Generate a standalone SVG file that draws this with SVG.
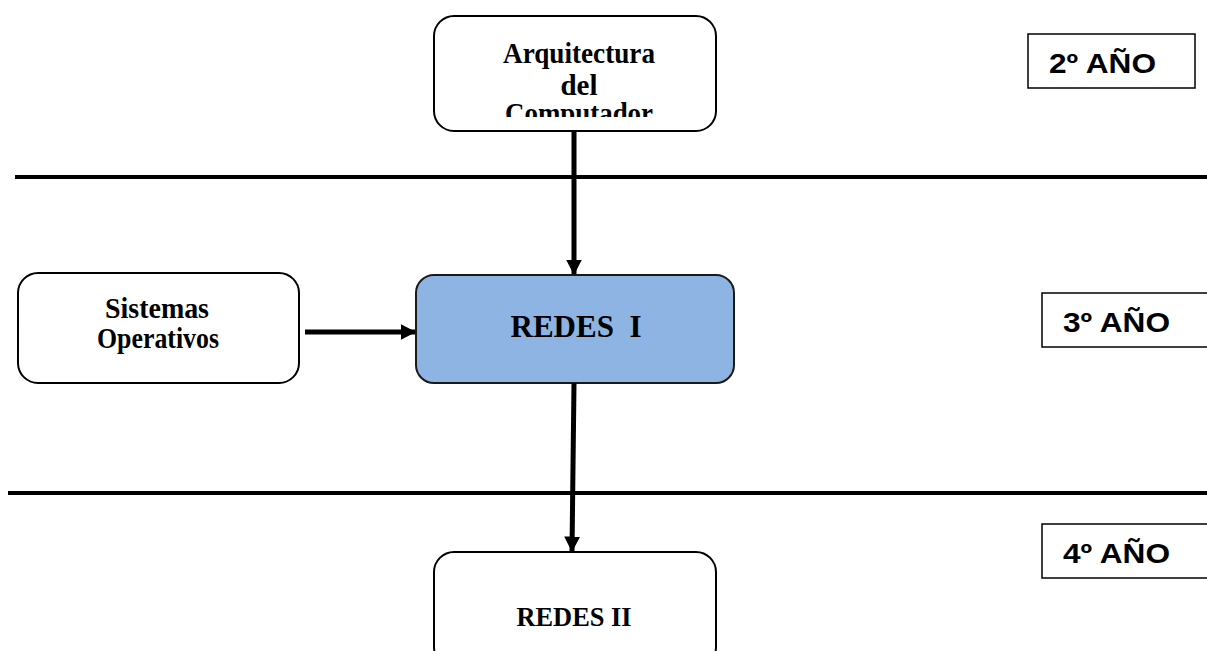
<svg xmlns="http://www.w3.org/2000/svg" width="1207" height="651" viewBox="0 0 1207 651">
<style>
.node{fill:#fff;stroke:#000;stroke-width:2}
.t{font-family:"Liberation Serif",serif;font-weight:bold;fill:#000;text-anchor:middle}
.y{font-family:"Liberation Sans",sans-serif;font-weight:bold;font-size:28px;fill:#000}
.yb{fill:#fff;stroke:#000;stroke-width:1.5}
.sep{stroke:#000;stroke-width:4}
.c{stroke:#000;stroke-width:5;fill:none}
</style>
<defs>
<marker id="ah" markerWidth="3.2" markerHeight="3.2" refX="2.9" refY="1.6" orient="auto" markerUnits="strokeWidth">
<path d="M0,0 L3.1,1.6 L0,3.2 Z" fill="#000"/>
</marker>
<clipPath id="clipA"><rect x="434" y="16" width="282" height="101"/></clipPath>
</defs>
<g id="lines">
<line class="sep" x1="15" y1="177" x2="1207" y2="177"/>
<line class="sep" x1="8" y1="493" x2="1207" y2="493"/>
</g>
<g id="arquitectura">
<rect class="node" x="434" y="16" width="282" height="115" rx="20"/>
<g clip-path="url(#clipA)">
<text class="t" font-size="29" x="579" y="63" textLength="152" lengthAdjust="spacingAndGlyphs">Arquitectura</text>
<text class="t" font-size="29" x="579" y="95">del</text>
<text class="t" font-size="29" x="579" y="123" textLength="148" lengthAdjust="spacingAndGlyphs">Computador</text>
</g>
</g>
<g id="sistemas">
<rect class="node" x="18" y="273" width="281" height="110" rx="20"/>
<text class="t" font-size="29" x="157" y="318" textLength="104" lengthAdjust="spacingAndGlyphs">Sistemas</text>
<text class="t" font-size="29" x="158" y="348" textLength="122" lengthAdjust="spacingAndGlyphs">Operativos</text>
</g>
<g id="redes1">
<rect x="416" y="275" width="318" height="108" rx="18" fill="#8EB4E3" stroke="#1a1a1a" stroke-width="2"/>
<text class="t" font-size="31" x="576" y="337" textLength="131" lengthAdjust="spacingAndGlyphs" xml:space="preserve">REDES  I</text>
</g>
<g id="redes2">
<rect class="node" x="434" y="552" width="282" height="115" rx="20"/>
<text class="t" font-size="27" x="574" y="626" textLength="115" lengthAdjust="spacingAndGlyphs">REDES II</text>
</g>
<g id="y2">
<rect class="yb" x="1028" y="34" width="167" height="54"/>
<text class="y" x="1049" y="73" textLength="107" lengthAdjust="spacingAndGlyphs">2º AÑO</text>
</g>
<g id="y3">
<rect class="yb" x="1042" y="293" width="170" height="54"/>
<text class="y" x="1063" y="332" textLength="107" lengthAdjust="spacingAndGlyphs">3º AÑO</text>
</g>
<g id="y4">
<rect class="yb" x="1042" y="524" width="170" height="54"/>
<text class="y" x="1063" y="563" textLength="107" lengthAdjust="spacingAndGlyphs">4º AÑO</text>
</g>
<g id="connectors">
<line class="c" x1="574" y1="131" x2="574" y2="274" marker-end="url(#ah)"/>
<line class="c" x1="305" y1="332" x2="415" y2="332" marker-end="url(#ah)"/>
<line class="c" x1="574" y1="383" x2="572" y2="551" marker-end="url(#ah)"/>
</g>
</svg>
